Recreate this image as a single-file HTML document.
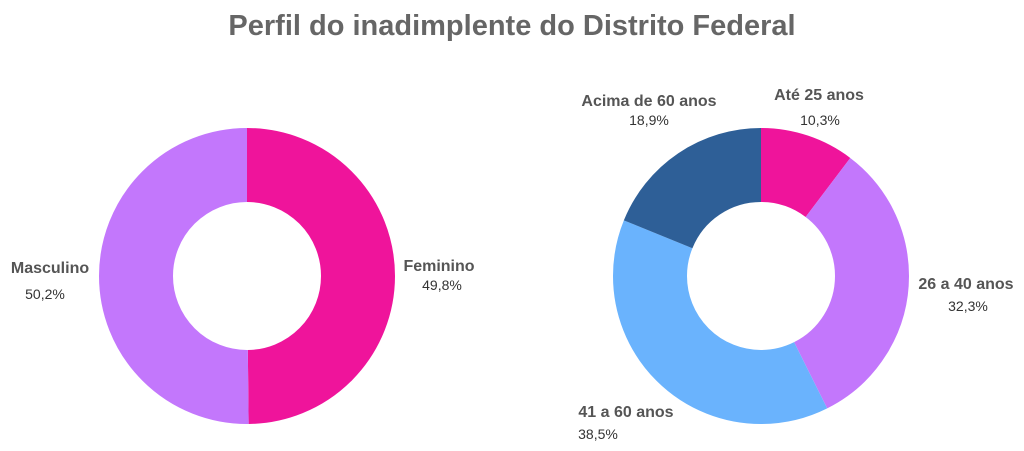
<!DOCTYPE html>
<html><head><meta charset="utf-8"><style>
html,body{margin:0;padding:0;background:#fff;}
svg{display:block;}
.t{font-family:"Liberation Sans",sans-serif;font-weight:bold;font-size:29px;fill:#666;}
.l{font-family:"Liberation Sans",sans-serif;font-weight:bold;font-size:16px;fill:#555;}
.p{font-family:"Liberation Sans",sans-serif;font-size:14px;fill:#333;}
</style></head><body>
<svg width="1024" height="451" viewBox="0 0 1024 451" xmlns="http://www.w3.org/2000/svg">
<text class="t" x="512" y="35" text-anchor="middle">Perfil do inadimplente do Distrito Federal</text>
<g transform="rotate(-90 247 276)" fill="none" stroke-width="74">
<circle cx="247" cy="276" r="111" stroke="#EF149B" stroke-dasharray="347.32 697.43"/>
<circle cx="247" cy="276" r="111" stroke="#C377FC" stroke-dasharray="350.11 697.43" stroke-dashoffset="-347.32"/>
</g>
<g transform="rotate(-90 761 276)" fill="none" stroke-width="74">
<circle cx="761" cy="276" r="111" stroke="#EF149B" stroke-dasharray="71.84 697.43"/>
<circle cx="761" cy="276" r="111" stroke="#C377FC" stroke-dasharray="225.27 697.43" stroke-dashoffset="-71.84"/>
<circle cx="761" cy="276" r="111" stroke="#6AB3FD" stroke-dasharray="268.51 697.43" stroke-dashoffset="-297.11"/>
<circle cx="761" cy="276" r="111" stroke="#2E5F97" stroke-dasharray="131.81 697.43" stroke-dashoffset="-565.62"/>
</g>
<text class="l" x="50" y="273" text-anchor="middle">Masculino</text>
<text class="p" x="45" y="299" text-anchor="middle">50,2%</text>
<text class="l" x="439" y="271" text-anchor="middle">Feminino</text>
<text class="p" x="442" y="290" text-anchor="middle">49,8%</text>
<text class="l" x="649" y="106" text-anchor="middle">Acima de 60 anos</text>
<text class="p" x="649" y="125" text-anchor="middle">18,9%</text>
<text class="l" x="819" y="100" text-anchor="middle">Até 25 anos</text>
<text class="p" x="820" y="125" text-anchor="middle">10,3%</text>
<text class="l" x="966" y="289" text-anchor="middle">26 a 40 anos</text>
<text class="p" x="968" y="311" text-anchor="middle">32,3%</text>
<text class="l" x="626" y="417" text-anchor="middle">41 a 60 anos</text>
<text class="p" x="598" y="439" text-anchor="middle">38,5%</text>
</svg>
</body></html>
